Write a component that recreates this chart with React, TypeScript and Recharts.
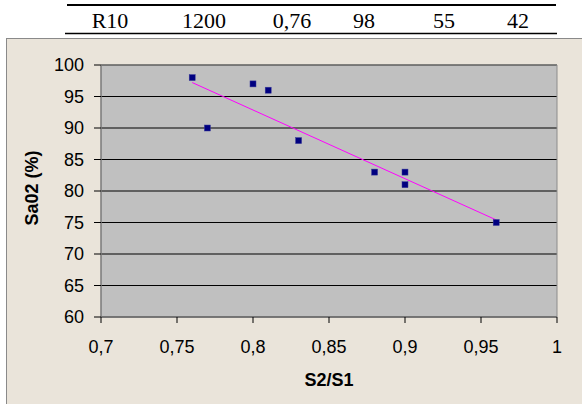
import React from 'react'
import {
    ScatterChart,
    Scatter,
    XAxis,
    YAxis,
    CartesianGrid,
    ReferenceArea,
    Label,
} from 'recharts'

// table row above the chart
const tableCells = ['R10', '1200', '0,76', '98', '55', '42']
const tableCellX = [110, 204, 292, 364, 444, 518]

// scatter data
const ratioS2S1 = [0.76, 0.77, 0.8, 0.81, 0.83, 0.88, 0.9, 0.9, 0.96]
const sao2 = [98, 90, 97, 96, 88, 83, 83, 81, 75]

const xTicks = [0.7, 0.75, 0.8, 0.85, 0.9, 0.95, 1]
const yTicks = [60, 65, 70, 75, 80, 85, 90, 95, 100]

const points = ratioS2S1.map((x, i) => ({ x, y: sao2[i] }))

// least squares trend line over the data range
function trendLine() {
    const n = points.length
    const mx = points.reduce((s, p) => s + p.x, 0) / n
    const my = points.reduce((s, p) => s + p.y, 0) / n
    let sxy = 0
    let sxx = 0
    points.forEach((p) => {
        sxy += (p.x - mx) * (p.y - my)
        sxx += (p.x - mx) * (p.x - mx)
    })
    const slope = sxy / sxx
    const xMin = Math.min(...ratioS2S1)
    const xMax = Math.max(...ratioS2S1)
    return [
        { x: xMin, y: my + slope * (xMin - mx) },
        { x: xMax, y: my + slope * (xMax - mx) },
    ]
}

const trend = trendLine()

const sans = '"Liberation Sans", Arial, sans-serif'
const tickStyle = { fontSize: 18, fill: '#000', fontFamily: sans }

const fmt = (v: number) => String(v).replace('.', ',')

const SquareDot = (props: any) => {
    const { cx, cy } = props
    return <rect x={cx - 3} y={cy - 3} width={6} height={6} fill="#000080" stroke="#3a3a9a" strokeWidth={0.5} />
}

export default function App() {
    return (
        <div style={{ position: 'absolute', left: 0, top: 0, width: 582, height: 404, overflow: 'hidden', background: '#fff' }}>
            <svg width={582} height={38} style={{ position: 'absolute', left: 0, top: 0 }}>
                <line x1={67} x2={556} y1={5} y2={5} stroke="#000" strokeWidth={2} />
                <line x1={65} x2={557} y1={33.5} y2={33.5} stroke="#000" strokeWidth={1.5} />
                {tableCells.map((t, i) => (
                    <text
                        key={t}
                        x={tableCellX[i]}
                        y={28}
                        textAnchor="middle"
                        fontSize={22}
                        fontFamily='"Liberation Serif", "Times New Roman", serif'
                        fill="#000"
                    >
                        {t}
                    </text>
                ))}
            </svg>
            <div
                style={{
                    position: 'absolute',
                    left: 6,
                    top: 38,
                    width: 600,
                    height: 380,
                    background: '#EAE4DA',
                    border: '1px solid #8a8a8a',
                }}
            >
                <ScatterChart width={598} height={378} margin={{ top: 26, right: 48, left: 0, bottom: 50 }}>
                    <CartesianGrid vertical={false} stroke="#000" fill="#C0C0C0" fillOpacity={1} />
                    <ReferenceArea x1={0.7} x2={1} y1={60} y2={100} fill="none" stroke="#8c8c8c" strokeWidth={1} />
                    <XAxis
                        type="number"
                        dataKey="x"
                        domain={[0.7, 1]}
                        ticks={xTicks}
                        tickFormatter={fmt}
                        tick={tickStyle}
                        tickSize={6}
                        tickMargin={17}
                        height={50}
                        axisLine={{ stroke: '#707070' }}
                        tickLine={{ stroke: '#000' }}
                        allowDataOverflow
                    >
                        <Label
                            content={(p: any) => {
                                const vb = p.viewBox
                                return (
                                    <text
                                        x={vb.x + vb.width / 2}
                                        y={vb.y + 69}
                                        textAnchor="middle"
                                        fontSize={18}
                                        fontWeight="bold"
                                        fontFamily={sans}
                                        fill="#000"
                                    >
                                        S2/S1
                                    </text>
                                )
                            }}
                        />
                    </XAxis>
                    <YAxis
                        type="number"
                        dataKey="y"
                        domain={[60, 100]}
                        ticks={yTicks}
                        tick={tickStyle}
                        tickSize={7}
                        tickMargin={10}
                        width={94}
                        axisLine={{ stroke: '#707070' }}
                        tickLine={{ stroke: '#000' }}
                        allowDataOverflow
                    >
                        <Label
                            content={(p: any) => {
                                const vb = p.viewBox
                                const cx = 31
                                const cy = vb.y + vb.height / 2 - 3
                                return (
                                    <text
                                        x={cx}
                                        y={cy}
                                        transform={`rotate(-90, ${cx}, ${cy})`}
                                        textAnchor="middle"
                                        fontSize={18}
                                        fontWeight="bold"
                                        fontFamily={sans}
                                        fill="#000"
                                    >
                                        Sa02 (%)
                                    </text>
                                )
                            }}
                        />
                    </YAxis>
                    <Scatter
                        data={trend}
                        line={{ stroke: '#FF00FF', strokeWidth: 1 }}
                        shape={() => null}
                        isAnimationActive={false}
                    />
                    <Scatter data={points} shape={SquareDot} isAnimationActive={false} />
                </ScatterChart>
            </div>
        </div>
    )
}
